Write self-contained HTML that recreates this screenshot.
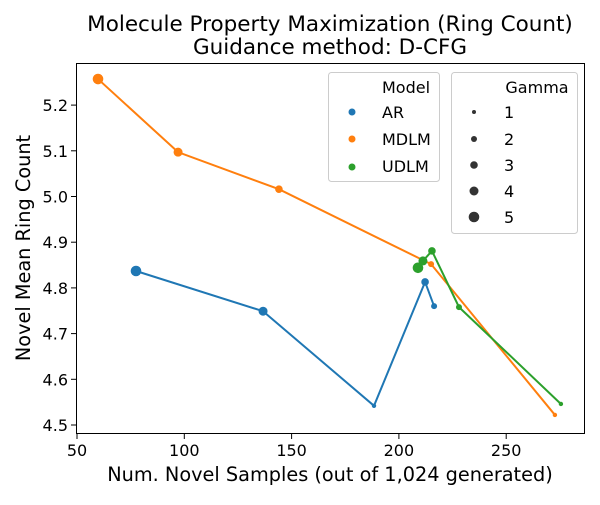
<!DOCTYPE html>
<html><head><meta charset="utf-8"><style>
body{margin:0;background:#fff}
text{font-family:"DejaVu Sans","Liberation Sans",sans-serif}
</style></head><body>
<svg id="chart" width="600" height="500" xmlns="http://www.w3.org/2000/svg">
<rect width="600" height="500" fill="#fff"/>
<text x="330" y="31" font-size="21.5" text-anchor="middle">Molecule Property Maximization (Ring Count)</text>
<text x="330" y="54" font-size="21.5" text-anchor="middle">Guidance method: D-CFG</text>
<g id="axes"></g>
<g id="series"></g>
<rect x="76.5" y="63.5" width="508" height="370" fill="none" stroke="#000" stroke-width="1"/>
<text x="330" y="481" font-size="19.3" text-anchor="middle">Num. Novel Samples (out of 1,024 generated)</text>
<text transform="translate(30,248) rotate(-90)" font-size="19.3" text-anchor="middle">Novel Mean Ring Count</text>
<g>
<rect x="328.5" y="72.5" width="111" height="109" rx="3" fill="#fff" fill-opacity="0.8" stroke="#ccc"/>
<text x="406" y="93" font-size="16" text-anchor="middle">Model</text>
<circle cx="352" cy="112" r="3.5" fill="#1f77b4"/><text x="382" y="118" font-size="16">AR</text>
<circle cx="352" cy="139" r="3.5" fill="#ff7f0e"/><text x="382" y="145" font-size="16">MDLM</text>
<circle cx="352" cy="167" r="3.5" fill="#2ca02c"/><text x="382" y="172" font-size="16">UDLM</text>
</g>
<g>
<rect x="451.5" y="72.5" width="126" height="161" rx="3" fill="#fff" fill-opacity="0.8" stroke="#ccc"/>
<text x="537" y="93" font-size="16" text-anchor="middle">Gamma</text>
<circle cx="474" cy="112" r="2" fill="#333"/><text x="504" y="118" font-size="16">1</text>
<circle cx="474" cy="139" r="3" fill="#333"/><text x="504" y="145" font-size="16">2</text>
<circle cx="474" cy="165" r="3.8" fill="#333"/><text x="504" y="171" font-size="16">3</text>
<circle cx="474" cy="191" r="4.5" fill="#333"/><text x="504" y="197" font-size="16">4</text>
<circle cx="474" cy="217" r="5.3" fill="#333"/><text x="504" y="223" font-size="16">5</text>
</g>
</svg>
<script>
const xTicks=[50,100,150,200,250];
const yTicks=[4.5,4.6,4.7,4.8,4.9,5.0,5.1,5.2];
const arX=[77.5,136.7,188.4,212.2,216.4];
const arY=[4.837,4.749,4.542,4.813,4.760];
const arG=[5,4,1,3,2];
const mdlmX=[59.8,97.1,144.1,215.0,272.7];
const mdlmY=[5.257,5.097,5.016,4.852,4.522];
const mdlmG=[5,4,3,2,1];
const udlmX=[208.9,211.2,215.4,228.0,275.5];
const udlmY=[4.844,4.859,4.881,4.758,4.546];
const udlmG=[5,4,3,2,1];
const NS="http://www.w3.org/2000/svg";
function sx(v){return 77+(v-50)*2.146;}
function sy(v){return 425-(v-4.5)*457;}
function rad(g){return [0,2.2,3,3.8,4.5,5.3][g];}
const axes=document.getElementById('axes');
const ser=document.getElementById('series');
function mk(tag,attrs,parent){const e=document.createElementNS(NS,tag);for(const k in attrs)e.setAttribute(k,attrs[k]);parent.appendChild(e);return e;}
xTicks.forEach(t=>{
 const l=mk('line',{x1:sx(t),x2:sx(t),y1:434,y2:439,stroke:'#000'},axes);
 
 
 const tx=mk('text',{x:sx(t),y:456,'font-size':16,'text-anchor':'middle'},axes);
 tx.textContent=t;
 
 
});
yTicks.forEach(t=>{
 const l=mk('line',{x1:71,x2:76,y1:sy(t),y2:sy(t),stroke:'#000'},axes);
 
 
 const tx=mk('text',{x:68,y:sy(t)+6,'font-size':16,'text-anchor':'end'},axes);
 tx.textContent=t.toFixed(1);
 
 
});
function drawSeries(xs,ys,gs,color,name){
 const pl=mk('polyline',{points:xs.map((x,i)=>sx(x)+','+sy(ys[i])).join(' '),fill:'none',stroke:color,'stroke-width':2},ser);
 
 
 xs.forEach((x,i)=>{
  const c=mk('circle',{cx:sx(x),cy:sy(ys[i]),r:rad(gs[i]),fill:color},ser);
  
  
 });
}
drawSeries(arX,arY,arG,'#1f77b4','ar');
drawSeries(mdlmX,mdlmY,mdlmG,'#ff7f0e','mdlm');
drawSeries(udlmX,udlmY,udlmG,'#2ca02c','udlm');
</script>
</body></html>
